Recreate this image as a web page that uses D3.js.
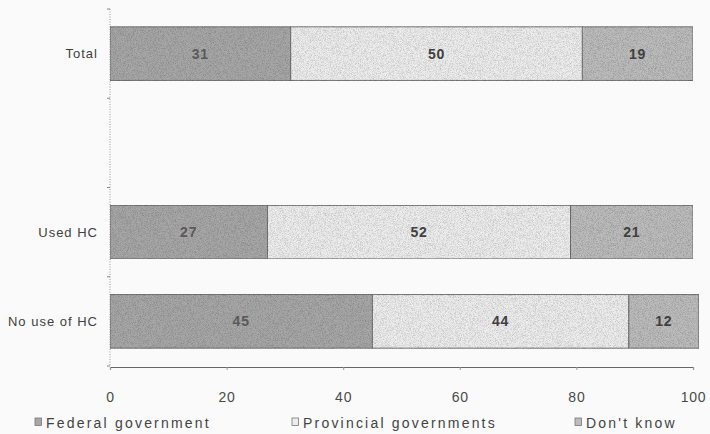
<!DOCTYPE html>
<html>
<head>
<meta charset="utf-8">
<script src="https://cdn.jsdelivr.net/npm/d3@7/dist/d3.min.js"></script>
<style>
  html, body { margin: 0; padding: 0; background: #fafafa; }
  svg { display: block; font-family: "Liberation Sans", Arial, sans-serif; }
</style>
</head>
<body>
<svg id="chart" width="710" height="434"></svg>
<script>
// Survey groups (top to bottom); the blank entry leaves an empty row
const categories = ["Total", " ", "Used HC", "No use of HC"];
const seriesNames = ["Federal government", "Provincial governments", "Don't know"];
const federal    = [31, null, 27, 45];
const provincial = [50, null, 52, 44];
const dontKnow   = [19, null, 21, 12];
const xTicks = [0, 20, 40, 60, 80, 100];

const fills = ["#a7a7a7", "#ededed", "#bcbcbc"];

const svg = d3.select("#chart");
const margin = { left: 110, right: 17, top: 9, bottom: 68 };
const W = 710, H = 434;

const x = d3.scaleLinear().domain([0, 100]).range([margin.left, W - margin.right]);
const y = d3.scaleBand().domain(categories)
  .range([margin.top, H - margin.bottom])
  .paddingInner(0.4).paddingOuter(0.2);

// grainy texture used on the bar fills
const defs = svg.append("defs");
const f = defs.append("filter").attr("id", "grain").attr("x", 0).attr("y", 0).attr("width", 1).attr("height", 1);
f.append("feTurbulence").attr("type", "fractalNoise").attr("baseFrequency", 1.4).attr("numOctaves", 1).attr("seed", 3).attr("result", "noise");
f.append("feColorMatrix").attr("in", "noise").attr("type", "matrix")
  .attr("values", "0 0 0 0 0  0 0 0 0 0  0 0 0 0 0  0 0 0 0.9 -0.35").attr("result", "dots");
f.append("feComposite").attr("in", "dots").attr("in2", "SourceGraphic").attr("operator", "in").attr("result", "d2");
f.append("feMerge").selectAll("feMergeNode").data(["SourceGraphic", "d2"]).join("feMergeNode").attr("in", d => d);

// rows for stacking
const rows = categories.map((c, i) => ({
  cat: c,
  v: [federal[i], provincial[i], dontKnow[i]]
})).filter(r => r.v[0] !== null);

const segs = [];
rows.forEach(r => {
  let acc = 0;
  r.v.forEach((val, k) => {
    segs.push({ cat: r.cat, k, x0: acc, x1: acc + val, val });
    acc += val;
  });
});

// y axis (dotted line, ticks at band boundaries)
const step = y.step();
const yTop = margin.top, yBot = H - margin.bottom;
svg.append("line")
  .attr("x1", x(0)).attr("x2", x(0)).attr("y1", yTop).attr("y2", yBot)
  .attr("stroke", "#9a9a9a").attr("stroke-width", 1).attr("stroke-dasharray", "1,1.5");
d3.range(categories.length + 1).forEach(i => {
  const yy = yTop + i * step;
  svg.append("line").attr("x1", x(0) - 3).attr("x2", x(0)).attr("y1", yy).attr("y2", yy)
    .attr("stroke", "#888").attr("stroke-width", 1);
});

// x axis
const xAxis = d3.axisBottom(x).tickValues(xTicks).tickSize(3).tickPadding(22);
const gx = svg.append("g").attr("transform", `translate(0,${yBot + 1})`).call(xAxis);
gx.select(".domain").attr("stroke", "#666").attr("stroke-width", 1.2);
gx.selectAll(".tick line").attr("stroke", "#999");
gx.selectAll(".tick text").attr("fill", "#4a4a4a").attr("font-size", 14)
  .attr("font-family", "'Liberation Sans', Arial, sans-serif").attr("letter-spacing", "0.8px");

// category labels
svg.selectAll("text.cat").data(categories).join("text").attr("class", "cat")
  .attr("x", x(0) - 12).attr("y", d => y(d) + y.bandwidth() / 2 + 4.5)
  .attr("text-anchor", "end").attr("font-size", 13).attr("letter-spacing", "1px")
  .attr("fill", "#3f3f3f").text(d => d.trim());

// bars
svg.selectAll("rect.seg").data(segs).join("rect").attr("class", "seg")
  .attr("x", d => x(d.x0)).attr("y", d => y(d.cat))
  .attr("width", d => x(d.x1) - x(d.x0)).attr("height", y.bandwidth())
  .attr("fill", d => fills[d.k]).attr("filter", "url(#grain)")
  .attr("stroke", "#6a6a6a").attr("stroke-width", 0.9);

// value labels
svg.selectAll("text.val").data(segs).join("text").attr("class", "val")
  .attr("x", d => x((d.x0 + d.x1) / 2)).attr("y", d => y(d.cat) + y.bandwidth() / 2 + 5)
  .attr("text-anchor", "middle").attr("font-size", 14).attr("font-weight", "bold")
  .attr("letter-spacing", "0.8px")
  .attr("fill", d => d.k === 0 ? "#5a5a5a" : "#404040").text(d => d.val);

// legend
const legendX = [35, 292, 575];
const lg = svg.selectAll("g.lg").data(seriesNames).join("g").attr("class", "lg")
  .attr("transform", (d, i) => `translate(${legendX[i]},428)`);
lg.append("rect").attr("x", 0).attr("y", -10).attr("width", 6.5).attr("height", 7.5)
  .attr("fill", (d, i) => fills[i]).attr("stroke", "#777").attr("stroke-width", 0.8);
lg.append("text").attr("x", 11).attr("y", 0).attr("font-size", 14)
  .attr("letter-spacing", "2.2px").attr("fill", "#444").text(d => d);
</script>
</body>
</html>
